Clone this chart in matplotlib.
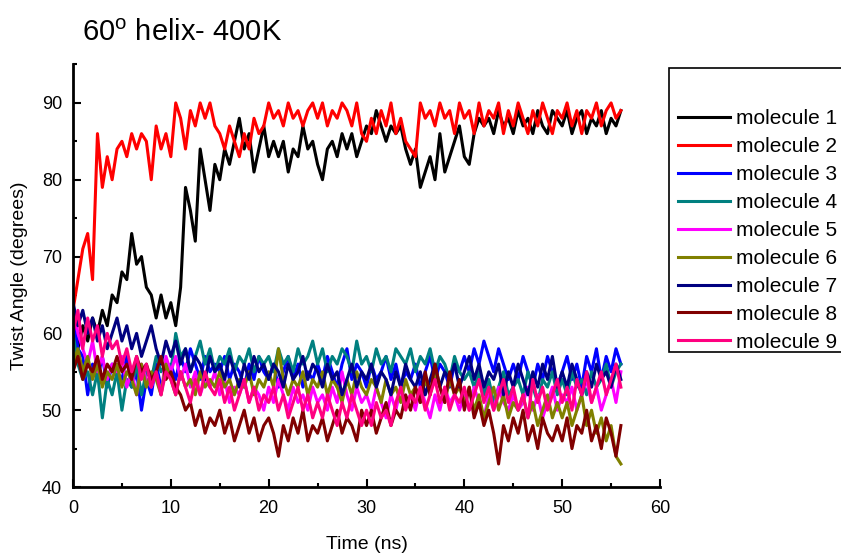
import numpy as np
import matplotlib
matplotlib.use("Agg")
import matplotlib.pyplot as plt
from matplotlib.lines import Line2D
from matplotlib.patches import Rectangle
from matplotlib.ticker import MultipleLocator

plt.rcParams['font.family'] = ['Liberation Sans', 'DejaVu Sans']

# time axis, one reading every 0.5 ns
time_ns = np.arange(0, 56.01, 0.5)

mol1 = [60, 58, 61, 59, 62, 60, 63, 61, 65, 64,
        68, 67, 73, 69, 70, 66, 65, 62, 65, 62,
        64, 61, 66, 79, 76, 72, 84, 80, 76, 82,
        80, 84, 82, 85, 88, 84, 86, 81, 84, 87,
        83, 85, 83, 85, 81, 84, 83, 87, 84, 85,
        82, 80, 84, 85, 83, 86, 84, 86, 83, 85,
        87, 86, 89, 87, 85, 87, 86, 87, 84, 82,
        84, 79, 81, 83, 80, 86, 81, 83, 85, 87,
        83, 82, 86, 88, 87, 88, 86, 89, 87, 88,
        86, 89, 87, 88, 86, 89, 87, 86, 89, 88,
        87, 89, 86, 88, 89, 86, 88, 87, 89, 86,
        88, 87, 89]
mol2 = [63, 67, 71, 73, 67, 86, 79, 83, 80, 84,
        85, 83, 86, 84, 86, 85, 80, 87, 84, 86,
        83, 90, 88, 84, 89, 87, 90, 88, 90, 87,
        86, 84, 87, 85, 83, 86, 84, 88, 86, 87,
        90, 88, 89, 87, 90, 88, 89, 87, 89, 90,
        88, 90, 87, 89, 88, 90, 89, 87, 90, 86,
        85, 88, 86, 89, 87, 90, 86, 88, 85, 84,
        83, 90, 88, 89, 87, 90, 88, 89, 86, 90,
        88, 89, 86, 90, 87, 89, 88, 90, 86, 89,
        87, 90, 88, 86, 89, 87, 90, 88, 86, 89,
        88, 90, 87, 89, 86, 89, 88, 90, 87, 89,
        90, 88, 89]
mol3 = [63, 58, 57, 52, 56, 54, 57, 53, 56, 55,
        54, 57, 53, 55, 50, 54, 52, 56, 53, 55,
        56, 54, 57, 55, 58, 56, 54, 57, 55, 56,
        55, 57, 54, 56, 55, 53, 56, 54, 57, 55,
        54, 56, 53, 55, 57, 54, 56, 53, 55, 54,
        56, 54, 57, 55, 53, 56, 58, 54, 56, 55,
        53, 56, 54, 55, 57, 54, 56, 53, 55, 54,
        56, 53, 55, 57, 54, 56, 55, 53, 56, 55,
        57, 55, 58, 56, 59, 57, 55, 58, 56, 54,
        56, 54, 57, 55, 53, 56, 54, 57, 55, 53,
        55, 57, 54, 56, 53, 57, 55, 58, 54, 57,
        55, 58, 56]
mol4 = [60, 56, 54, 55, 52, 55, 49, 54, 52, 55,
        50, 54, 53, 56, 52, 55, 54, 57, 55, 56,
        55, 60, 57, 58, 55, 57, 59, 56, 58, 55,
        57, 56, 58, 55, 57, 56, 58, 55, 57, 56,
        57, 55, 58, 56, 57, 55, 58, 56, 57, 59,
        56, 58, 55, 57, 56, 58, 57, 55, 59, 56,
        57, 55, 58, 56, 57, 55, 58, 57, 56, 58,
        55, 57, 56, 58, 55, 57, 56, 54, 57, 55,
        54, 55, 53, 55, 52, 54, 51, 53, 55, 52,
        53, 54, 52, 55, 53, 51, 54, 53, 55, 52,
        54, 52, 55, 53, 54, 52, 55, 53, 54, 56,
        53, 55, 56]
mol5 = [64, 60, 58, 56, 59, 55, 57, 54, 56, 55,
        57, 53, 55, 52, 56, 54, 53, 55, 52, 57,
        55, 57, 54, 56, 53, 55, 52, 54, 53, 55,
        52, 54, 51, 53, 52, 54, 51, 53, 52, 50,
        53, 51, 54, 52, 50, 53, 51, 52, 50, 53,
        51, 52, 50, 53, 51, 55, 52, 50, 53, 51,
        52, 50, 53, 51, 49, 52, 50, 53, 51, 52,
        50, 53, 51, 49, 52, 50, 53, 51, 52, 50,
        52, 50, 53, 51, 49, 52, 50, 53, 51, 50,
        52, 50, 51, 53, 50, 52, 49, 51, 53, 50,
        52, 51, 53, 50, 52, 54, 51, 53, 50, 52,
        54, 51, 55]
mol6 = [56, 58, 55, 57, 54, 56, 53, 55, 54, 56,
        53, 55, 54, 52, 56, 53, 55, 54, 52, 56,
        54, 52, 55, 53, 54, 52, 55, 53, 54, 53,
        55, 53, 54, 52, 54, 53, 55, 52, 54, 53,
        55, 53, 58, 54, 52, 54, 53, 55, 52, 54,
        53, 55, 52, 54, 53, 51, 54, 52, 55, 53,
        52, 54, 53, 51, 54, 52, 53, 51, 54, 52,
        53, 51, 54, 52, 55, 53, 51, 54, 52, 53,
        51, 53, 50, 52, 49, 51, 53, 50, 52, 49,
        51, 50, 52, 49, 51, 48, 50, 52, 49, 51,
        49, 51, 48, 50, 52, 48, 50, 47, 49, 46,
        48, 44, 43]
mol7 = [64, 61, 63, 60, 62, 59, 61, 58, 60, 62,
        59, 61, 58, 60, 57, 59, 61, 58, 56, 59,
        57, 59, 56, 58, 55, 57, 56, 54, 57, 55,
        56, 54, 57, 55, 53, 56, 54, 57, 55, 56,
        54, 56, 55, 53, 56, 54, 55, 57, 54, 56,
        55, 53, 56, 54, 55, 52, 54, 56, 53, 55,
        54, 56, 53, 55, 54, 52, 55, 53, 56, 54,
        53, 55, 52, 54, 56, 53, 55, 54, 56, 53,
        55, 57, 54, 56, 53, 55, 54, 56, 52, 55,
        53, 56, 54, 52, 55, 53, 56, 54, 57, 53,
        55, 53, 56, 54, 52, 55, 53, 56, 54, 55,
        53, 56, 54]
mol8 = [55, 57, 54, 56, 55, 57, 54, 56, 55, 57,
        55, 56, 54, 57, 55, 56, 54, 55, 57, 54,
        55, 53, 52, 50, 51, 48, 50, 47, 49, 48,
        50, 47, 49, 46, 48, 50, 47, 49, 46, 48,
        49, 47, 44, 48, 46, 49, 47, 50, 46, 48,
        47, 49, 46, 48, 50, 47, 49, 48, 46, 50,
        48, 50, 47, 49, 51, 48, 50, 49, 52, 50,
        53, 51, 55, 52, 56, 53, 51, 55, 52, 54,
        50, 53, 49, 51, 48, 50, 47, 43, 48, 46,
        49, 47, 50, 46, 48, 45, 49, 47, 46, 48,
        46, 49, 45, 48, 47, 50, 46, 48, 45, 49,
        47, 44, 48]
mol9 = [60, 63, 58, 62, 59, 61, 57, 60, 58, 59,
        56, 58, 55, 57, 54, 56, 53, 55, 52, 55,
        54, 52, 55, 53, 51, 54, 52, 55, 53, 52,
        54, 51, 53, 50, 52, 54, 51, 53, 50, 52,
        51, 53, 50, 52, 49, 51, 53, 50, 52, 49,
        51, 49, 52, 50, 48, 51, 49, 52, 50, 48,
        50, 48, 51, 49, 50, 48, 51, 53, 50, 52,
        51, 53, 50, 52, 54, 51, 53, 50, 52, 51,
        53, 50, 52, 54, 51, 53, 50, 52, 54, 51,
        53, 50, 52, 49, 54, 51, 53, 50, 52, 54,
        51, 53, 50, 54, 52, 55, 51, 53, 55, 52,
        54, 56, 53]

labels = ['molecule %d' % i for i in range(1, 10)]
colors = ['#000000', '#ff0000', '#0000ff', '#008080', '#ff00ff',
          '#808000', '#000080', '#800000', '#ff0080']
series = [mol1, mol2, mol3, mol4, mol5, mol6, mol7, mol8, mol9]

fig = plt.figure(figsize=(8.41, 5.55), dpi=100)
ax = fig.add_axes([0.0868, 0.1225, 0.698, 0.7613])

for y, c in zip(series, colors):
    ax.plot(time_ns, y, color=c, lw=2.2)

ax.set_xlim(0, 60)
ax.set_ylim(40, 95)
ax.xaxis.set_major_locator(MultipleLocator(10))
ax.xaxis.set_minor_locator(MultipleLocator(5))
ax.yaxis.set_minor_locator(MultipleLocator(5))
ax.set_yticks([40, 50, 60, 70, 80, 90])
ax.tick_params(which='both', direction='in', width=1.5, labelsize=13)
ax.tick_params(which='major', length=6)
ax.tick_params(which='minor', length=3)
ax.tick_params(axis='x', pad=9)
ax.tick_params(axis='y', pad=8)
ax.spines['top'].set_visible(False)
ax.spines['right'].set_visible(False)
ax.spines['left'].set_linewidth(2)
ax.spines['bottom'].set_linewidth(2)

ax.set_xlabel('Time (ns)', fontsize=14, labelpad=14)
ax.set_ylabel('Twist Angle (degrees)', fontsize=14, labelpad=10)

fig.text(0.098, 0.94, r'60$^\mathregular{o}$ helix- 400K', fontsize=21, va='center')

# legend box runs off the right edge like in the original
fig.add_artist(Rectangle((0.7955, 0.3658), 0.3, 0.5123, transform=fig.transFigure,
                         facecolor='white', edgecolor='black', lw=1.2))
handles = [Line2D([], [], color=c, lw=2.2) for c in colors]
leg = fig.legend(handles, labels, loc='upper left',
                 bbox_to_anchor=(0.806, 0.8035), fontsize=15, frameon=False,
                 handlelength=2.5, handletextpad=0.3, labelspacing=0.43,
                 borderpad=0, borderaxespad=0)

fig.savefig('out.png', dpi=100)
